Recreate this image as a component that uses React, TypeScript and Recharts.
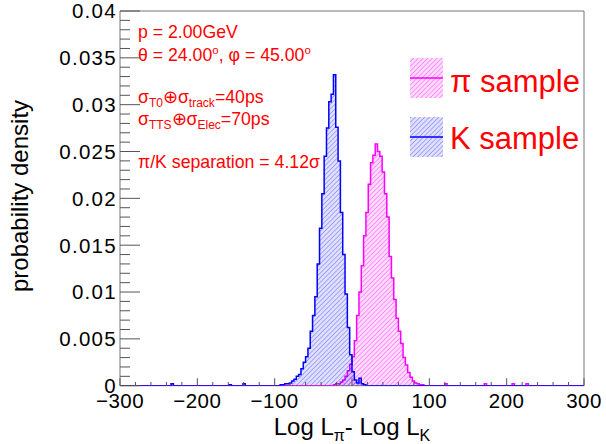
import { ComposedChart, Area, XAxis, YAxis, ReferenceArea } from "recharts";

// ── histogram binning (200 bins of width 3 over -300..300) ─────────────────
const binLow = -300;
const binWidth = 3;
const binCount = 200;

// K sample: bins starting at edge -93
const kStart = -93;
const kValues = [
  0.0001, 0.0001, 0.0002, 0.0002, 0.0003, 0.0005, 0.0007, 0.001, 0.0012,
  0.0018, 0.0025, 0.0031, 0.004, 0.0058, 0.0075, 0.0095, 0.013, 0.0168,
  0.0205, 0.0245, 0.0275, 0.0303, 0.0311, 0.0332, 0.0276, 0.024, 0.0185,
  0.014, 0.0098, 0.0062, 0.0033, 0.0015, 0.0006, 0.0003, 0.0008, 0.0002,
  0.0001,
];
const kStrays: [number, number][] = [
  [-234, 0.0002],
  [-159, 0.0001],
  [-141, 0.0002],
];

// pi sample: bins starting at edge -24
const piStart = -24;
const piValues = [
  0.0001, 0.0002, 0.0002, 0.0004, 0.0006, 0.001, 0.0016, 0.0023, 0.0031,
  0.0048, 0.0075, 0.01, 0.0128, 0.016, 0.0185, 0.0215, 0.0238, 0.0246,
  0.0258, 0.025, 0.0245, 0.0228, 0.0205, 0.018, 0.0138, 0.0115, 0.0092,
  0.0072, 0.0058, 0.0045, 0.003, 0.0022, 0.0014, 0.0009, 0.0005, 0.0003,
  0.0002, 0.0001, 0.0001,
];
const piStrays: [number, number][] = [
  [120, 0.0002],
  [171, 0.0002],
  [207, 0.0002],
  [225, 0.0002],
];

// ── axis ticks ─────────────────────────────────────────────────────────────
const xTicks = [
  -300, -280, -260, -240, -220, -200, -180, -160, -140, -120, -100, -80, -60,
  -40, -20, 0, 20, 40, 60, 80, 100, 120, 140, 160, 180, 200, 220, 240, 260,
  280, 300,
];
const xMajor = [-300, -200, -100, 0, 100, 200, 300];
const xMajorLabels = ["\u2212300", "\u2212200", "\u2212100", "0", "100", "200", "300"];

const yTicks = [
  0, 0.001, 0.002, 0.003, 0.004, 0.005, 0.006, 0.007, 0.008, 0.009, 0.01,
  0.011, 0.012, 0.013, 0.014, 0.015, 0.016, 0.017, 0.018, 0.019, 0.02, 0.021,
  0.022, 0.023, 0.024, 0.025, 0.026, 0.027, 0.028, 0.029, 0.03, 0.031, 0.032,
  0.033, 0.034, 0.035, 0.036, 0.037, 0.038, 0.039, 0.04,
];
const yMajor = [0, 0.005, 0.01, 0.015, 0.02, 0.025, 0.03, 0.035, 0.04];
const yMajorLabels = ["0", "0.005", "0.01", "0.015", "0.02", "0.025", "0.03", "0.035", "0.04"];

function buildTable() {
  const rows: { x: number; k: number; pi: number }[] = [];
  for (let i = 0; i <= binCount; i++) {
    const edge = binLow + i * binWidth;
    const ki = (edge - kStart) / binWidth;
    const pj = (edge - piStart) / binWidth;
    let k = ki >= 0 && ki < kValues.length ? kValues[ki] : 0;
    let pi = pj >= 0 && pj < piValues.length ? piValues[pj] : 0;
    kStrays.forEach(([e, v]) => { if (e === edge) k = v; });
    piStrays.forEach(([e, v]) => { if (e === edge) pi = v; });
    rows.push({ x: edge, k, pi });
  }
  return rows;
}

const data = buildTable();

const FONT = "'Liberation Sans', Arial, Helvetica, sans-serif";
const RED = "#ff0000";

function XTick(props: any) {
  const { x, y, payload } = props;
  const idx = xMajor.indexOf(payload.value);
  const major = idx >= 0;
  return (
    <g>
      <line x1={x} y1={y} x2={x} y2={y - (major ? 7.5 : 3.75)} stroke="#555" />
      {major && (
        <text x={x} y={y + 22.5} textAnchor="middle" fontSize={20.5} fontFamily={FONT} fill="#000" letterSpacing={0.5}>
          {xMajorLabels[idx]}
        </text>
      )}
    </g>
  );
}

function YTick(props: any) {
  const { x, y, payload } = props;
  const idx = yMajor.findIndex((t) => Math.abs(t - payload.value) < 1e-9);
  const major = idx >= 0;
  return (
    <g>
      <line x1={x} y1={y} x2={x + (major ? 20 : 10)} y2={y} stroke="#555" />
      {major && (
        <text x={x - 3} y={y} dy="0.36em" textAnchor="end" fontSize={20.5} fontFamily={FONT} fill="#000" letterSpacing={1.3}>
          {yMajorLabels[idx]}
        </text>
      )}
    </g>
  );
}

export default function App() {
  return (
    <div style={{ position: "absolute", left: 0, top: 0, width: 606, height: 444, background: "#fff" }}>
      <ComposedChart width={606} height={444} data={data} margin={{ top: 11, right: 22, left: 0, bottom: 0 }}>
        <defs>
          <pattern id="hatchPi" width="3.3" height="3.3" patternUnits="userSpaceOnUse" patternTransform="rotate(45)">
            <rect width="3.3" height="3.3" fill="rgba(255,0,255,0.14)" />
            <line x1="0" y1="0" x2="0" y2="3.3" stroke="rgba(255,0,255,0.75)" strokeWidth="0.9" />
          </pattern>
          <pattern id="hatchK" width="3.3" height="3.3" patternUnits="userSpaceOnUse" patternTransform="rotate(45)">
            <rect width="3.3" height="3.3" fill="rgba(0,0,255,0.12)" />
            <line x1="0" y1="0" x2="0" y2="3.3" stroke="rgba(0,0,255,0.6)" strokeWidth="0.9" />
          </pattern>
        </defs>
        <XAxis
          dataKey="x"
          type="number"
          domain={[-300, 300]}
          ticks={xTicks}
          interval={0}
          tick={<XTick />}
          tickLine={false}
          tickSize={0}
          tickMargin={0}
          axisLine={false}
          height={58.3}
          allowDataOverflow
        />
        <YAxis
          type="number"
          domain={[0, 0.04]}
          ticks={yTicks}
          interval={0}
          tick={<YTick />}
          tickLine={false}
          tickSize={0}
          tickMargin={0}
          axisLine={false}
          width={120}
          allowDataOverflow
        />
        <ReferenceArea x1={-300} x2={300} y1={0} y2={0.04} fill="none" stroke="#777" strokeWidth={1} />
        <Area
          type="stepAfter"
          dataKey="pi"
          stroke="#ff00ff"
          strokeWidth={1.5}
          fill="url(#hatchPi)"
          fillOpacity={1}
          baseValue={0}
          dot={false}
          activeDot={false}
          isAnimationActive={false}
        />
        <Area
          type="stepAfter"
          dataKey="k"
          stroke="#0000ff"
          strokeWidth={1.5}
          fill="url(#hatchK)"
          fillOpacity={1}
          baseValue={0}
          dot={false}
          activeDot={false}
          isAnimationActive={false}
        />

        {/* annotations */}
        <g fontFamily={FONT} fill={RED} fontSize={17.7}>
          <text x={138} y={38}>p = 2.00GeV</text>
          <text x={138} y={61}>
            θ = 24.00<tspan fontSize={11.5} dy={-7}>o</tspan>
            <tspan dy={7}>, φ = 45.00</tspan>
            <tspan fontSize={11.5} dy={-7}>o</tspan>
          </text>
          <text x={138} y={103}>
            σ<tspan fontSize={12} dy={4}>T0</tspan>
            <tspan dy={-4}>⊕σ</tspan>
            <tspan fontSize={12} dy={4}>track</tspan>
            <tspan dy={-4}>=40ps</tspan>
          </text>
          <text x={138} y={125}>
            σ<tspan fontSize={12} dy={4}>TTS</tspan>
            <tspan dy={-4}>⊕σ</tspan>
            <tspan fontSize={12} dy={4}>Elec</tspan>
            <tspan dy={-4}>=70ps</tspan>
          </text>
          <text x={138} y={168}>π/K separation = 4.12σ</text>
        </g>

        {/* legend */}
        <g>
          <rect x={410} y={58} width={33} height={40} fill="url(#hatchPi)" />
          <line x1={410} y1={78} x2={443} y2={78} stroke="#ff00ff" strokeWidth={1.5} />
          <text x={450} y={92} fontSize={31} fontFamily={FONT} fill={RED}>π sample</text>
          <rect x={410} y={117} width={33} height={40} fill="url(#hatchK)" />
          <line x1={410} y1={137} x2={443} y2={137} stroke="#0000ff" strokeWidth={1.5} />
          <text x={450} y={149} fontSize={31} fontFamily={FONT} fill={RED}>K sample</text>
        </g>

        {/* axis titles */}
        <text x={352} y={434.5} textAnchor="middle" fontSize={24} fontFamily={FONT} fill="#000">
          Log L<tspan fontSize={16} dy={6}>π</tspan>
          <tspan dy={-6}>- Log L</tspan>
          <tspan fontSize={16} dy={6}>K</tspan>
        </text>
        <text
          x={28}
          y={196}
          transform="rotate(-90 28 196)"
          textAnchor="middle"
          fontSize={24}
          fontFamily={FONT}
          fill="#000"
        >
          probability density
        </text>
      </ComposedChart>
    </div>
  );
}
